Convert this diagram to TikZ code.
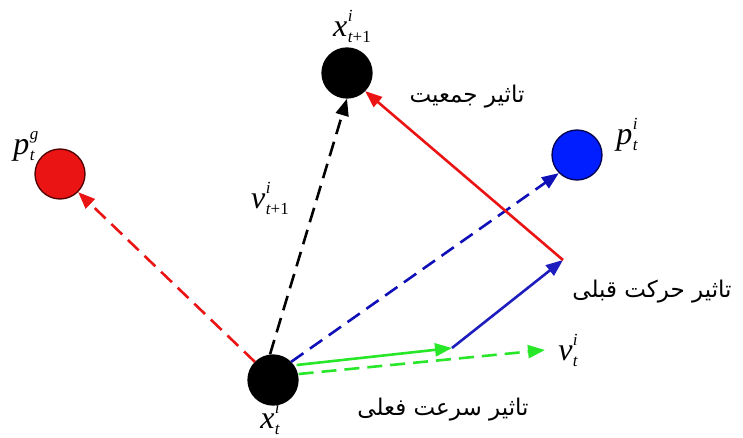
\documentclass[tikz,border=0pt]{standalone}
\usepackage{fontspec}
\newfontfamily\arabicfont[Script=Arabic]{DejaVu Sans}
\newfontfamily\tnr{Liberation Serif}
\TeXXeTstate=1
\usetikzlibrary{arrows.meta}
\definecolor{myred}{RGB}{235,20,20}
\definecolor{myblue}{RGB}{20,20,230}
\definecolor{mygreen}{RGB}{40,230,40}
\definecolor{ptblue}{RGB}{0,30,255}
\definecolor{darkblue}{RGB}{30,30,190}
\newcommand\bigsym[1]{{\tnr\itshape\fontsize{32}{32}\selectfont #1}}
\newcommand\smsym[1]{{\tnr\itshape\fontsize{17}{17}\selectfont #1}}
\newcommand\psym[3]{\bigsym{#1}\kern0.5pt\rlap{\raisebox{15pt}{\smsym{#2}}}\raisebox{-6pt}{\smsym{#3}}}
\tikzset{
  particle/.style={circle, draw=black, line width=1.3pt, minimum size=50pt, inner sep=0pt},
  vec/.style={line width=2.6pt, -{Triangle[length=17pt,width=13pt]}},
  dvec/.style={vec, dash pattern=on 15pt off 8pt},
  mlabel/.style={inner sep=1pt},
  alabel/.style={font=\arabicfont\fontsize{23}{26}\selectfont},
}
\begin{document}
\begin{tikzpicture}[x=1pt,y=-1pt]
\useasboundingbox (0,0) rectangle (743,438);
% particles
\node[particle, fill=black] (xt) at (273,380) {};
\node[particle, fill=black] (xn) at (347,73) {};
\node[particle, fill=myred, draw=black!70!red] (pg) at (60,174) {};
\node[particle, fill=ptblue, draw=black!70!blue] (pi) at (577,155) {};
% corner coordinates
\coordinate (g1) at (452,348);
\coordinate (b1) at (563,260);
\coordinate (gv) at (545,350);
% arrows
\draw[dvec, black] (xt.north) ++(-3,0) coordinate (xs) -- (xn.south);
\draw[dvec, myred] (xt.north west) -- (pg.south east);
\draw[dvec, myblue!80!black] (xt.north east) -- (pi.south west);
\draw[vec, mygreen] (xt.east) ++(-2,-15) coordinate (gs) -- (g1);
\draw[dvec, mygreen] (xt.east) ++(0,-6) coordinate (gd) -- (gv);
\draw[vec, darkblue] (g1) -- (b1);
\draw[vec, myred] (b1) -- (xn.south east);
% labels
\node[mlabel] (lxn) at (352,26) {\psym{x}{i}{t\upshape+1}};
\node[mlabel] (lxt) at (270,418) {\psym{x}{i}{t}};
\node[mlabel] (lpg) at (24,146) {\psym{p}{g}{t}};
\node[mlabel] (lpi) at (627,135) {\psym{p}{i}{t}};
\node[mlabel] (lvn) at (270,198) {\psym{v}{i}{t\upshape+1}};
\node[mlabel] (lvt) at (568,350) {\psym{v}{i}{t}};
\node[alabel] (a1) at (467,97) {\beginR تاثیر جمعیت\endR};
\node[alabel] (a2) at (652,292) {\beginR تاثیر حرکت قبلی\endR};
\node[alabel] (a3) at (443,410) {\beginR تاثیر سرعت فعلی\endR};
\end{tikzpicture}
\end{document}
